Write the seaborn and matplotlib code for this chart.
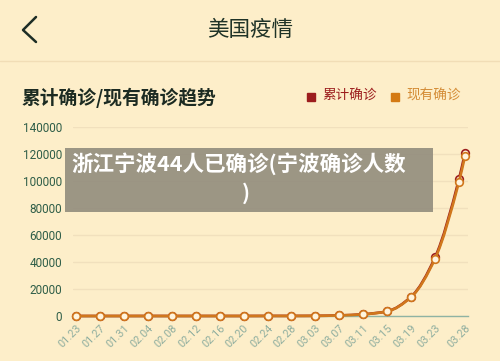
import matplotlib
matplotlib.use("Agg")
import matplotlib.pyplot as plt
import seaborn as sns
import pandas as pd
import numpy as np
from matplotlib.lines import Line2D
from matplotlib.patches import Rectangle, PathPatch
from matplotlib.path import Path

# ---- data ----
dates = ["01.23", "01.27", "01.31", "02.04", "02.08", "02.12", "02.16", "02.20",
         "02.24", "02.28", "03.03", "03.07", "03.11", "03.15", "03.19", "03.23",
         "03.27", "03.28"]
cumulative = [1, 5, 7, 11, 12, 13, 15, 15, 53, 62, 122, 435, 1301, 3500,
              14300, 43500, 101500, 121000]
existing = [1, 5, 7, 11, 12, 13, 12, 12, 50, 55, 110, 415, 1260, 3400,
            14000, 42500, 99500, 118500]
tick_labels = ["01.23", "01.27", "01.31", "02.04", "02.08", "02.12", "02.16",
               "02.20", "02.24", "02.28", "03.03", "03.07", "03.11", "03.15",
               "03.19", "03.23", "03.28"]
y_ticks = [0, 20000, 40000, 60000, 80000, 100000, 120000, 140000]

BG = "#fdeec9"
RED = "#9c1d1d"
ORANGE = "#d0771c"

sns.set_theme(style="white")
plt.rcParams["font.family"] = ["Noto Sans CJK SC", "DejaVu Sans"]

def day_index(s):
    return (pd.Timestamp("2020-" + s.replace(".", "-")) - pd.Timestamp("2020-01-23")).days

days = [day_index(d) for d in dates]
df = pd.DataFrame({
    "day": days * 2,
    "value": cumulative + existing,
    "series": ["累计确诊"] * len(dates) + ["现有确诊"] * len(dates),
})

fig = plt.figure(figsize=(5.0, 3.61), dpi=100, facecolor=BG)
ax = fig.add_axes([73 / 500, 1 - 316 / 361, (468 - 73) / 500, (316 - 127) / 361])
ax.set_facecolor(BG)


def smooth_path(xs, ys):
    """Monotone cubic (Fritsch-Carlson) curve through the data points as Bezier path."""
    x = np.asarray(xs, float)
    y = np.asarray(ys, float)
    h = np.diff(x)
    d = np.diff(y) / h
    n = len(x)
    m = np.zeros(n)
    m[0], m[-1] = d[0], d[-1]
    for i in range(1, n - 1):
        if d[i - 1] * d[i] <= 0:
            m[i] = 0
        else:
            w1 = 2 * h[i] + h[i - 1]
            w2 = h[i] + 2 * h[i - 1]
            m[i] = (w1 + w2) / (w1 / d[i - 1] + w2 / d[i])
    verts = [(x[0], y[0])]
    codes = [Path.MOVETO]
    for i in range(n - 1):
        verts += [(x[i] + h[i] / 3, y[i] + m[i] * h[i] / 3),
                  (x[i + 1] - h[i] / 3, y[i + 1] - m[i + 1] * h[i] / 3),
                  (x[i + 1], y[i + 1])]
        codes += [Path.CURVE4] * 3
    return Path(verts, codes)


# markers through seaborn
sns.lineplot(data=df, x="day", y="value", hue="series",
             palette={"累计确诊": RED, "现有确诊": ORANGE},
             hue_order=["累计确诊", "现有确诊"],
             marker="o", markersize=5.5, markerfacecolor="#fff4de",
             markeredgewidth=1.2, linestyle="", legend=False, ax=ax,
             clip_on=False)
for i, ln in enumerate(ax.lines):
    ln.set_markeredgecolor(ln.get_color())
    ln.set_zorder(3 + 2 * i)

# smooth lines
for k, (vals, col) in enumerate([(cumulative, RED), (existing, ORANGE)]):
    ax.add_patch(PathPatch(smooth_path(days, vals), facecolor="none",
                           edgecolor=col, linewidth=1.9, zorder=2 + 2 * k,
                           clip_on=False))

ax.set_xlim(-0.5, day_index("03.28") + 0.5)
ax.set_ylim(0, 140000)
ax.set_yticks(y_ticks)
ax.set_yticklabels([str(v) for v in y_ticks], fontsize=8.5, color="#2f5e48",
                   family="Roboto")
ax.set_xticks([day_index(t) for t in tick_labels])
ax.set_xticklabels(tick_labels, rotation=45, ha="right", rotation_mode="anchor",
                   fontsize=7.8, color="#8fae9f", family="Roboto")
ax.tick_params(axis="both", length=0)
ax.tick_params(axis="y", pad=8)
ax.tick_params(axis="x", pad=5)
ax.set_xlabel("")
ax.set_ylabel("")
ax.grid(axis="y", color="#f1e0bd", linewidth=1)
ax.grid(axis="x", visible=False)
for s in ["top", "right", "left"]:
    ax.spines[s].set_visible(False)
ax.spines["bottom"].set_color("#8fb3a3")
ax.spines["bottom"].set_linewidth(1)

# ---- header ----
H = 361.0
def fy(y):
    return 1 - y / H

fig.add_artist(Line2D([36 / 500, 23 / 500, 36 / 500], [fy(17), fy(30), fy(42)],
                      color="#1d2d25", linewidth=1.8, transform=fig.transFigure))
fig.text(0.5, fy(30), "美国疫情", ha="center", va="center", fontsize=15.5,
         color="#1f3327")
fig.add_artist(Line2D([0, 1], [fy(60.5), fy(60.5)], color="#f1ddb6",
                      linewidth=1, transform=fig.transFigure))
fig.text(22 / 500, fy(97.5), "累计确诊/现有确诊趋势", ha="left", va="center",
         fontsize=13.5, fontweight="bold", color="#1c2b22")

# legend
fig.add_artist(Rectangle((307 / 500, fy(100.5)), 8 / 500, 8 / H, color=RED,
                         transform=fig.transFigure))
fig.text(322 / 500, fy(96), "累计确诊", ha="left", va="center", fontsize=9.8,
         color=RED)
fig.add_artist(Rectangle((390.5 / 500, fy(100.5)), 8 / 500, 8 / H, color="#d47a14",
                         transform=fig.transFigure))
fig.text(406 / 500, fy(96), "现有确诊", ha="left", va="center", fontsize=9.8,
         color="#d48c36")

# overlay banner
fig.add_artist(Rectangle((65 / 500, fy(212)), (433 - 65) / 500, (212 - 148) / H,
                         facecolor="#8f8a7b", alpha=0.88, edgecolor="none",
                         transform=fig.transFigure, zorder=10))
fig.text(239 / 500, fy(164), "浙江宁波44人已确诊(宁波确诊人数", ha="center",
         va="center", fontsize=15.5, fontweight="heavy", color="white", zorder=11)
fig.text(246 / 500, fy(193), ")", ha="center", va="center", fontsize=15.5,
         fontweight="heavy", color="white", zorder=11)

fig.savefig("out.png", dpi=100, facecolor=BG)
